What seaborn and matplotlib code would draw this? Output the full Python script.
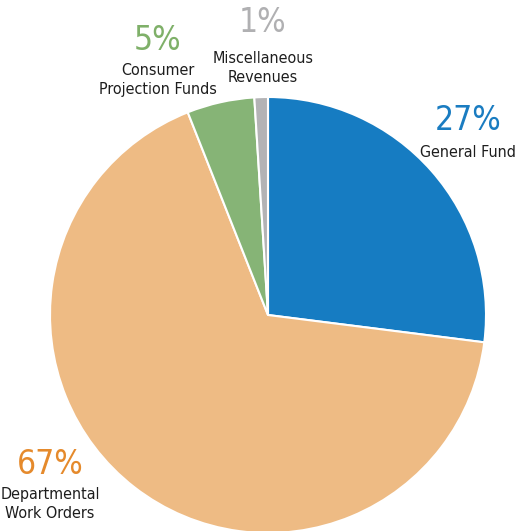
"""
Revenue sources pie chart (share of total, %)
"""

import matplotlib
matplotlib.use("Agg")
import matplotlib.pyplot as plt
import seaborn as sns

sns.set_style("white")
plt.rcParams['font.family'] = ['DejaVu Sans']
plt.rcParams['font.stretch'] = 'condensed'

# data, clockwise from 12 o'clock
labels = ['General Fund', 'Departmental\nWork Orders', 'Consumer\nProjection Funds',
          'Miscellaneous\nRevenues']
shares = [27, 67, 5, 1]
slice_colors = ['#167cc2', '#eebb84', '#86b476', '#b3b3b5']
pct_colors = ['#1a7cc1', '#e58a2c', '#7fb069', '#b0b0b2']

W, H = 515, 531
CX, CY, R = 268, 315, 218

fig = plt.figure(figsize=(W / 100, H / 100), dpi=100)
ax = fig.add_axes([0, 0, 1, 1])
ax.pie(shares, colors=slice_colors, startangle=90, counterclock=False,
       radius=1, wedgeprops=dict(edgecolor='white', linewidth=1.5))
ax.set_xlim(-CX / R, (W - CX) / R)
ax.set_ylim(-(H - CY) / R, CY / R)
ax.set_aspect('auto')
ax.axis('off')

# label anchors in pixels (x, pct centre, name top)
label_pos = [(468, 121, 145), (50, 465, 487), (158, 40, 63), (263, 22, 51)]

for (x, ypct, yname), lab, share, c in zip(label_pos, labels, shares, pct_colors):
    fig.text(x / W, 1 - ypct / H, f'{share}%', color=c, fontsize=24,
             ha='center', va='center', fontstretch='condensed')
    fig.text(x / W, 1 - yname / H, lab, color='#1e1e1e', fontsize=11.5,
             ha='center', va='top', linespacing=1.35, fontstretch='condensed')

fig.savefig('out.png', dpi=100)
